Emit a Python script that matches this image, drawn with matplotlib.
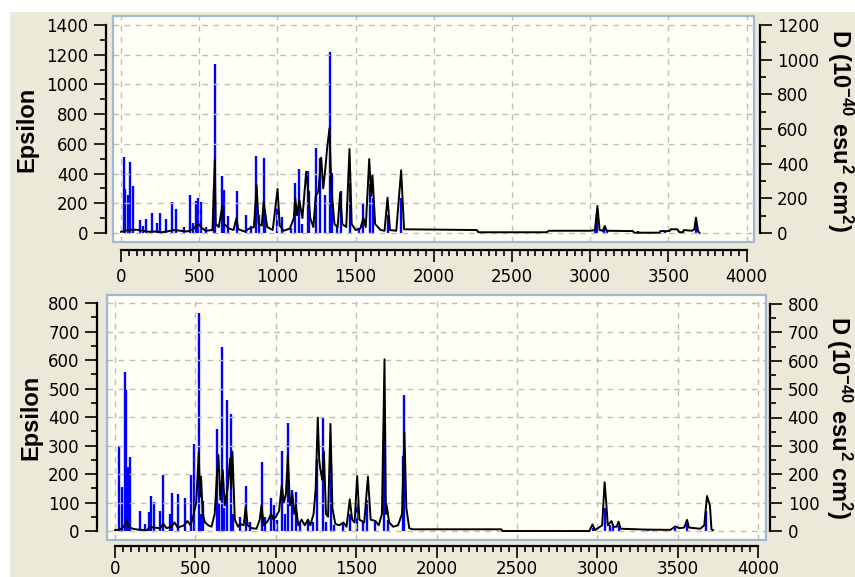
import matplotlib
matplotlib.use("Agg")
import matplotlib.pyplot as plt
from matplotlib.patches import Rectangle

plt.rcParams['font.family'] = ['DejaVu Sans']
plt.rcParams['mathtext.fontset'] = 'custom'
plt.rcParams['mathtext.rm'] = 'Liberation Sans:bold'
plt.rcParams['mathtext.default'] = 'rm'

# ---- top panel: IR spectrum (black curve = epsilon, blue sticks = D) ----
top_curve_x = [0, 20, 40, 100, 140, 180, 220, 260, 300, 340, 380, 420, 460, 480, 497, 515, 540,
               585, 600, 606, 625, 648, 660, 690, 720, 738, 750, 790, 820, 850, 867, 880, 900,
               912, 935, 970, 1001, 1015, 1040, 1080, 1105, 1114, 1125, 1140, 1160, 1184, 1195,
               1210, 1230, 1245, 1262, 1280, 1293, 1306, 1318, 1333, 1345, 1365, 1385, 1401,
               1415, 1440, 1461, 1475, 1500, 1530, 1550, 1565, 1587, 1600, 1608, 1625, 1660,
               1685, 1704, 1720, 1760, 1791, 1810, 2275, 2285, 2722, 2735, 3000, 3030, 3046,
               3060, 3080, 3093, 3105, 3272, 3280, 3442, 3450, 3506, 3515, 3557, 3570, 3590,
               3600, 3650, 3665, 3676, 3690, 3700]
top_curve_y = [8, 12, 20, 22, 15, 8, 10, 5, 12, 20, 15, 10, 25, 47, 60, 35, 15,
               20, 491, 60, 40, 182, 60, 30, 20, 100, 25, 10, 30, 40, 323, 60, 50,
               210, 40, 20, 296, 50, 15, 30, 100, 237, 120, 220, 100, 413, 300,
               100, 40, 250, 280, 507, 300, 430, 570, 705, 300, 60, 40, 269,
               60, 40, 565, 60, 20, 30, 100, 40, 498, 250, 386, 60, 20,
               15, 238, 20, 15, 422, 25, 20, 5, 5, 15, 15, 20, 182,
               20, 15, 47, 15, 13, 2, 2, 13, 13, 25, 25, 5, 5,
               20, 15, 25, 103, 10, 0]
top_stick_x = [19, 26, 47, 58, 77, 123, 143, 162, 200, 230, 251, 288, 326, 349, 403, 443, 460,
               479, 492, 511, 541, 596, 603, 643, 657, 684, 741, 799, 831, 865, 882, 914, 920,
               999, 1031, 1090, 1114, 1135, 1160, 1197, 1201, 1250, 1275, 1304, 1339, 1346,
               1380, 1406, 1467, 1520, 1550, 1595, 1612, 1704, 1791,
               3030, 3042, 3090, 3110, 3303, 3478, 3590, 3676]
top_stick_d = [437, 254, 219, 411, 271, 75, 40, 83, 118, 56, 114, 83, 177, 140, 36, 221, 56,
               186, 202, 177, 36, 254, 973, 329, 248, 98, 244, 106, 40, 444, 104, 434, 104,
               143, 94, 27, 287, 368, 50, 358, 242, 489, 434, 219, 1043, 344,
               40, 244, 287, 30, 171, 281, 200, 104, 204,
               21, 94, 21, 12, 12, 8, 10, 50]

# ---- bottom panel ----
bot_curve_x = [0, 30, 55, 70, 85, 110, 140, 170, 200, 215, 240, 280, 300, 320, 350, 370, 390,
               430, 450, 470, 490, 505, 521, 528, 535, 545, 560, 580, 600, 620, 633, 643, 655,
               670, 682, 700, 716, 722, 730, 745, 765, 778, 800, 813, 825, 850, 880, 900, 911,
               925, 950, 971, 985, 1000, 1020, 1037, 1050, 1063, 1075, 1088, 1103, 1115, 1124,
               1140, 1160, 1180, 1200, 1215, 1235, 1248, 1261, 1270, 1277, 1289, 1299, 1312,
               1325, 1340, 1352, 1370, 1395, 1420, 1440, 1460, 1475, 1490, 1506, 1520, 1550,
               1573, 1590, 1620, 1640, 1660, 1676, 1685, 1690, 1705, 1730, 1760, 1785, 1800,
               1812, 1830, 1850, 2402, 2410, 2950, 2970, 2985, 3030, 3045, 3054, 3065, 3088,
               3100, 3120, 3132, 3145, 3300, 3454, 3485, 3510, 3540, 3558, 3570, 3640, 3665,
               3682, 3700, 3710, 3720]
bot_curve_y = [3, 5, 15, 37, 15, 8, 5, 4, 3, 15, 12, 10, 25, 10, 15, 30, 12,
               20, 35, 20, 60, 100, 277, 120, 191, 60, 30, 20, 15, 60, 190, 267, 110,
               214, 90, 150, 255, 150, 279, 40, 15, 25, 20, 85, 20, 10, 8, 40, 91,
               20, 35, 60, 40, 50, 70, 160, 100, 130, 267, 90, 130, 60, 90,
               20, 40, 20, 40, 20, 60, 150, 398, 250, 217, 180, 279, 60,
               50, 376, 80, 25, 20, 30, 15, 111, 40, 30, 193, 40, 30,
               191, 40, 35, 20, 60, 603, 60, 90, 30, 15, 20, 60, 345,
               80, 10, 6, 6, 0, 0, 23, 3, 20, 171, 110, 20, 35,
               15, 15, 33, 8, 5, 4, 16, 10, 12, 39, 12, 8, 20,
               123, 90, 5, 3]
bot_stick_x = [27, 42, 64, 70, 81, 93, 157, 185, 213, 222, 241, 280, 299, 344, 355, 392, 438,
               475, 492, 521, 535, 550, 633, 645, 664, 680, 699, 719, 735, 778, 813, 840, 917,
               930, 971, 991, 1010, 1037, 1060, 1077, 1103, 1124, 1150, 1200, 1230, 1257, 1292,
               1310, 1342, 1360, 1420, 1460, 1506, 1540, 1570, 1620, 1672, 1700, 1790, 1797,
               2970, 3045, 3080, 3100, 3132, 3315, 3485, 3558, 3677]
bot_stick_d = [300, 156, 562, 498, 224, 261, 70, 24, 66, 124, 103, 70, 199, 60, 135, 129, 115,
               199, 308, 768, 60, 107, 361, 100, 648, 80, 463, 414, 60, 50, 159, 30, 244,
               50, 118, 91, 40, 282, 60, 382, 144, 138, 30, 40, 30, 255, 398,
               30, 232, 20, 25, 60, 97, 30, 109, 30, 345, 40, 265, 478,
               12, 82, 20, 15, 19, 8, 10, 23, 71]

W, H = 855, 577
fig = plt.figure(figsize=(W / 100, H / 100), dpi=100, facecolor='white')
fig.patches.append(Rectangle((10 / W, 0), 1, 1 - 12 / H, transform=fig.transFigure,
                             facecolor='#ECE9D8', edgecolor='none', zorder=-5))


def panel(box, cx, cy, sx, sd, xlim, eps_lim, d_lim, eps_max, eps_major, eps_minor,
          d_max, d_major, d_minor, off_left, off_right, off_bottom, xpad):
    l, t, r, b = box
    ax = fig.add_axes([l / W, 1 - b / H, (r - l) / W, (b - t) / H])
    ax2 = ax.twinx()
    ax.set_zorder(2)
    ax2.set_zorder(1)
    ax.patch.set_visible(False)
    ax2.patch.set_visible(True)
    ax2.set_facecolor('#FFFFF6')

    ax2.vlines(sx, 0, sd, color='#0000FF', lw=1.7)
    ax.plot(cx, cy, color='black', lw=1.4)

    ax.set_xlim(*xlim)
    ax.set_ylim(*eps_lim)
    ax2.set_ylim(*d_lim)

    ax.set_xticks(list(range(0, 4001, 500)))
    ax.set_xticks([v for v in range(0, 4001, 50) if v % 500], minor=True)
    ax.set_yticks(list(range(0, eps_max + 1, eps_major)))
    ax.set_yticks([v for v in range(0, eps_max + 1, eps_minor) if v % eps_major], minor=True)
    ax2.set_yticks(list(range(0, d_max + 1, d_major)))
    ax2.set_yticks([v for v in range(0, d_max + 1, d_minor) if v % d_major], minor=True)

    ax.grid(True, which='major', color='#BDBDBD', ls=(0, (4, 4)), lw=1.0)

    for s in ['top', 'right']:
        ax.spines[s].set_visible(False)
    for s in ['top', 'left', 'bottom']:
        ax2.spines[s].set_visible(False)
    ax.spines['left'].set_position(('outward', off_left))
    ax.spines['bottom'].set_position(('outward', off_bottom))
    ax2.spines['right'].set_position(('outward', off_right))
    ax.spines['left'].set_bounds(0, eps_max)
    ax.spines['bottom'].set_bounds(0, 4000)
    ax2.spines['right'].set_bounds(0, d_max)
    for sp in [ax.spines['left'], ax.spines['bottom'], ax2.spines['right']]:
        sp.set_linewidth(1.6)

    for a in (ax, ax2):
        a.tick_params(which='major', direction='out', length=8.6, width=1.2,
                      labelsize=12, pad=4)
        a.tick_params(which='minor', direction='out', length=4.3, width=1.2)
    ax.tick_params(axis='x', which='major', pad=xpad)

    ax.add_patch(Rectangle((0, 0), 1, 1, transform=ax.transAxes, fill=False,
                           edgecolor='#A3B8CC', lw=1.6, clip_on=False, zorder=5))
    return ax


panel((113, 16, 754, 242), top_curve_x, top_curve_y, top_stick_x, top_stick_d,
      (-51, 4047), (-60.6, 1460.6), (-51.9, 1251.9), 1400, 200, 100, 1200, 200, 100,
      5, 4, 6, 4)
panel((107, 295, 766, 540), bot_curve_x, bot_curve_y, bot_stick_x, bot_stick_d,
      (-50, 4049), (-31.6, 829), (-31.7, 831.7), 800, 100, 50, 800, 100, 50,
      7, 3, 4, 2)

label_kw = dict(fontsize=17, fontweight='bold', family='Liberation Sans',
                ha='center', va='center')
fig.text(27 / W, 1 - 129 / H, 'Epsilon', rotation=90, **label_kw)
fig.text(31 / W, 1 - 417 / H, 'Epsilon', rotation=90, **label_kw)
dlab = 'D (10$^{-40}$ esu$^{2}$ cm$^{2}$)'
fig.text(840 / W, 1 - 131 / H, dlab, rotation=270, **label_kw)
fig.text(839 / W, 1 - 418 / H, dlab, rotation=270, **label_kw)

fig.savefig('out.png', dpi=100, facecolor=fig.get_facecolor())
